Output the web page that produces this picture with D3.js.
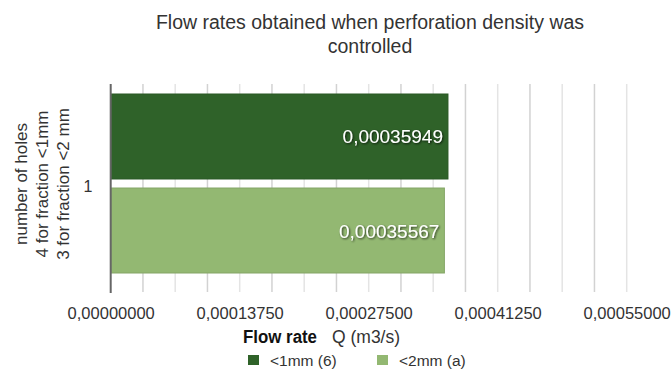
<!DOCTYPE html>
<html>
<head>
<meta charset="utf-8">
<script src="https://cdn.jsdelivr.net/npm/d3@7"></script>
<style>
  body { margin: 0; background: #fff; }
  text { font-family: "Liberation Sans", Arial, sans-serif; }
</style>
</head>
<body>
<div id="chart"></div>
<script>
var categories = ["1"];
var seriesNames = ["<1mm (6)", "<2mm (a)"];
var seriesValues = [0.00035949, 0.00035567];
var seriesColors = ["#2f6229", "#93b872"];
var tickValues = [0, 0.0001375, 0.000275, 0.0004125, 0.00055];
var yTitleLines = ["number of holes", "4 for fraction <1mm", "3 for fraction <2 mm"];

renderChart();

function renderChart() {

var width = 671;
var height = 374;

var svg = d3.select("#chart")
        .append("svg")
        .attr("width", width)
        .attr("height", height);

var defs = svg.append("defs");
defs.append("filter")
    .attr("id", "shadow")
    .append("feDropShadow")
    .attr("dx", 1).attr("dy", 1)
    .attr("stdDeviation", 0.8)
    .attr("flood-color", "#000")
    .attr("flood-opacity", 0.75);

var locale = d3.formatLocale({decimal: ",", thousands: ".", grouping: [3], currency: ["", ""]});
var fmt = locale.format(".8f");

var plotTop = 84, plotBottom = 292;

var x = d3.scaleLinear()
        .domain([0, 0.00055])
        .range([110.7, 626.7]);

var y0 = d3.scaleBand()
        .domain(categories)
        .range([94, 273]);

var y1 = d3.scaleBand()
        .domain(seriesNames)
        .range([0, y0.bandwidth()])
        .paddingInner(0.096);

// title
svg.append("text")
    .attr("x", 370).attr("y", 29)
    .attr("text-anchor", "middle")
    .attr("font-size", "19.5px")
    .attr("fill", "#333")
    .text("Flow rates obtained when perforation density was");
svg.append("text")
    .attr("x", 370).attr("y", 53)
    .attr("text-anchor", "middle")
    .attr("font-size", "19.5px")
    .attr("fill", "#333")
    .text("controlled");

// grid lines
var gridTicks = d3.range(1, 17).map(function(k) { return k * 0.0001375 / 4; });
svg.append("g")
    .selectAll("line")
    .data(gridTicks)
    .enter().append("line")
    .attr("x1", function(d) { return x(d); })
    .attr("x2", function(d) { return x(d); })
    .attr("y1", plotTop)
    .attr("y2", plotBottom)
    .attr("stroke", function(d, i) { return i % 2 === 0 ? "#d2d2d2" : "#e4e4e4"; })
    .attr("stroke-width", 1.5);

// bars
var groups = svg.append("g")
    .selectAll("g")
    .data(categories)
    .enter().append("g")
    .attr("transform", function(d) { return "translate(0," + y0(d) + ")"; });

groups.selectAll("rect")
    .data(seriesNames.map(function(s, i) { return {name: s, value: seriesValues[i], color: seriesColors[i]}; }))
    .enter().append("rect")
    .attr("x", x(0))
    .attr("y", function(d) { return y1(d.name); })
    .attr("width", function(d) { return x(d.value) - x(0); })
    .attr("height", y1.bandwidth())
    .attr("fill", function(d) { return d.color; })
    .attr("stroke", function(d) { return d3.color(d.color).darker(0.3); })
    .attr("stroke-width", 1);

groups.selectAll("text")
    .data(seriesNames.map(function(s, i) { return {name: s, value: seriesValues[i]}; }))
    .enter().append("text")
    .attr("x", function(d) { return x(d.value) - 5; })
    .attr("y", function(d) { return y1(d.name) + y1.bandwidth() / 2 + 7; })
    .attr("text-anchor", "end")
    .attr("font-size", "19px")
    .attr("fill", "#fff")
    .attr("filter", "url(#shadow)")
    .text(function(d) { return fmt(d.value); });

// y axis line
svg.append("line")
    .attr("x1", x(0)).attr("x2", x(0))
    .attr("y1", plotTop).attr("y2", plotBottom + 1)
    .attr("stroke", "#666")
    .attr("stroke-width", 2);

// x axis
var xAxis = svg.append("g")
    .attr("transform", "translate(0," + plotBottom + ")")
    .call(d3.axisBottom(x).tickValues(tickValues).tickSize(0).tickPadding(15).tickFormat(fmt));
xAxis.select(".domain").remove();
xAxis.selectAll("text")
    .attr("font-family", "Liberation Sans, Arial, sans-serif")
    .attr("font-size", "16.5px")
    .attr("fill", "#333");

// y category label
svg.append("g")
    .selectAll("text")
    .data(categories)
    .enter().append("text")
    .attr("x", 88)
    .attr("y", function(d) { return y0(d) + y0.bandwidth() / 2 + 8; })
    .attr("text-anchor", "middle")
    .attr("font-size", "16px")
    .attr("fill", "#333")
    .text(function(d) { return d; });

// y title
var yTitle = svg.append("text")
    .attr("transform", "translate(0,184) rotate(-90)")
    .attr("text-anchor", "middle")
    .attr("font-size", "17px")
    .attr("fill", "#333");
yTitle.selectAll("tspan")
    .data(yTitleLines)
    .enter().append("tspan")
    .attr("x", 0)
    .attr("y", function(d, i) { return 27 + i * 21; })
    .text(function(d) { return d; });

// x title
svg.append("text")
    .attr("x", 243).attr("y", 343)
    .attr("font-family", "Liberation Sans Narrow, Arial Narrow, sans-serif")
    .attr("font-weight", "bold")
    .attr("font-size", "18px")
    .attr("textLength", 74)
    .attr("lengthAdjust", "spacingAndGlyphs")
    .attr("fill", "#111")
    .text("Flow rate");
svg.append("text")
    .attr("x", 332).attr("y", 343)
    .attr("font-size", "17.5px")
    .attr("fill", "#333")
    .text("Q (m3/s)");

// legend
var legendX = [248, 377];
var legend = svg.append("g")
    .selectAll("g")
    .data(seriesNames)
    .enter().append("g")
    .attr("transform", function(d, i) { return "translate(" + legendX[i] + ",355)"; });
legend.append("rect")
    .attr("width", 11).attr("height", 10)
    .attr("fill", function(d, i) { return seriesColors[i]; });
legend.append("text")
    .attr("x", 22).attr("y", 11)
    .attr("font-size", "15.5px")
    .attr("fill", "#333")
    .text(function(d) { return d; });

}
</script>
</body>
</html>
